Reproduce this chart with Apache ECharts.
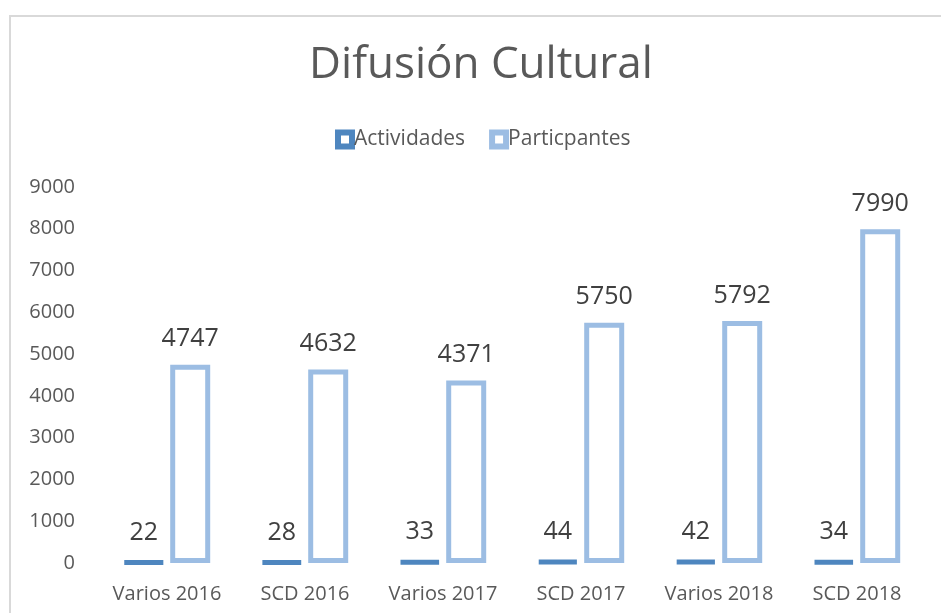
<!DOCTYPE html>
<html>
<head>
<meta charset="utf-8">
<script src="https://cdn.jsdelivr.net/npm/echarts@6/dist/echarts.min.js"></script>
<style>
  html, body { margin: 0; padding: 0; background: #ffffff; }
  #chart { width: 941px; height: 613px; }
</style>
</head>
<body>
<div id="chart"></div>
<script>
// Categories and series values
const categories = ['Varios 2016', 'SCD 2016', 'Varios 2017', 'SCD 2017', 'Varios 2018', 'SCD 2018'];
const actividades = [22, 28, 33, 44, 42, 34];
const participantes = [4747, 4632, 4371, 5750, 5792, 7990];
const yTicks = { min: 0, max: 9000, interval: 1000 };

const FONT = 'Open Sans';
const TEXT = '#595959';
const DARK = '#4E86BF';
const LIGHT = '#9CBDE3';

const chart = echarts.init(document.getElementById('chart'), null, { renderer: 'canvas' });

chart.setOption({
  backgroundColor: '#ffffff',
  animation: false,
  title: {
    text: 'Difusión Cultural',
    left: 476,
    textAlign: 'center',
    top: 38,
    textStyle: { fontFamily: FONT, fontSize: 44, fontWeight: 'normal', color: TEXT }
  },
  legend: {
    left: 330,
    top: 124,
    itemWidth: 14,
    itemHeight: 14,
    itemGap: 24,
    icon: 'rect',
    textStyle: { fontFamily: FONT, fontSize: 21, color: TEXT, padding: [0, 0, 0, -3] },
    data: [
      { name: 'Actividades', itemStyle: { color: '#ffffff', borderColor: DARK, borderWidth: 6 } },
      { name: 'Particpantes', itemStyle: { color: '#ffffff', borderColor: LIGHT, borderWidth: 6 } }
    ]
  },
  grid: { left: 98, right: 15, top: 187, bottom: 50, containLabel: false },
  xAxis: {
    type: 'category',
    data: categories,
    axisLine: { show: false },
    axisTick: { show: false },
    axisLabel: { interval: 0, fontFamily: FONT, fontSize: 20, color: TEXT, margin: 21 }
  },
  yAxis: {
    type: 'value',
    min: yTicks.min,
    max: yTicks.max,
    interval: yTicks.interval,
    splitLine: { show: false },
    axisLine: { show: false },
    axisTick: { show: false },
    axisLabel: {
      fontFamily: FONT, fontSize: 20, color: TEXT, margin: 23,
      formatter: (v) => String(v)
    }
  },
  series: [
    {
      name: 'Actividades',
      type: 'bar',
      data: actividades,
      barWidth: 40,
      barGap: '16%',
      itemStyle: { color: DARK, borderColor: DARK, borderWidth: 5 },
      label: { show: true, position: 'top', distance: 15, fontFamily: FONT, fontSize: 25, color: '#404040' }
    },
    {
      name: 'Particpantes',
      type: 'bar',
      data: participantes,
      barWidth: 40,
      itemStyle: { color: '#ffffff', borderColor: LIGHT, borderWidth: 5 },
      label: { show: true, position: 'top', distance: 13, fontFamily: FONT, fontSize: 25, color: '#404040' }
    }
  ],
  graphic: [
    {
      type: 'rect',
      silent: true,
      shape: { x: 10, y: 16, width: 1000, height: 1000 },
      style: { fill: 'none', stroke: '#D9D9D9', lineWidth: 2 }
    }
  ]
});
</script>
</body>
</html>
